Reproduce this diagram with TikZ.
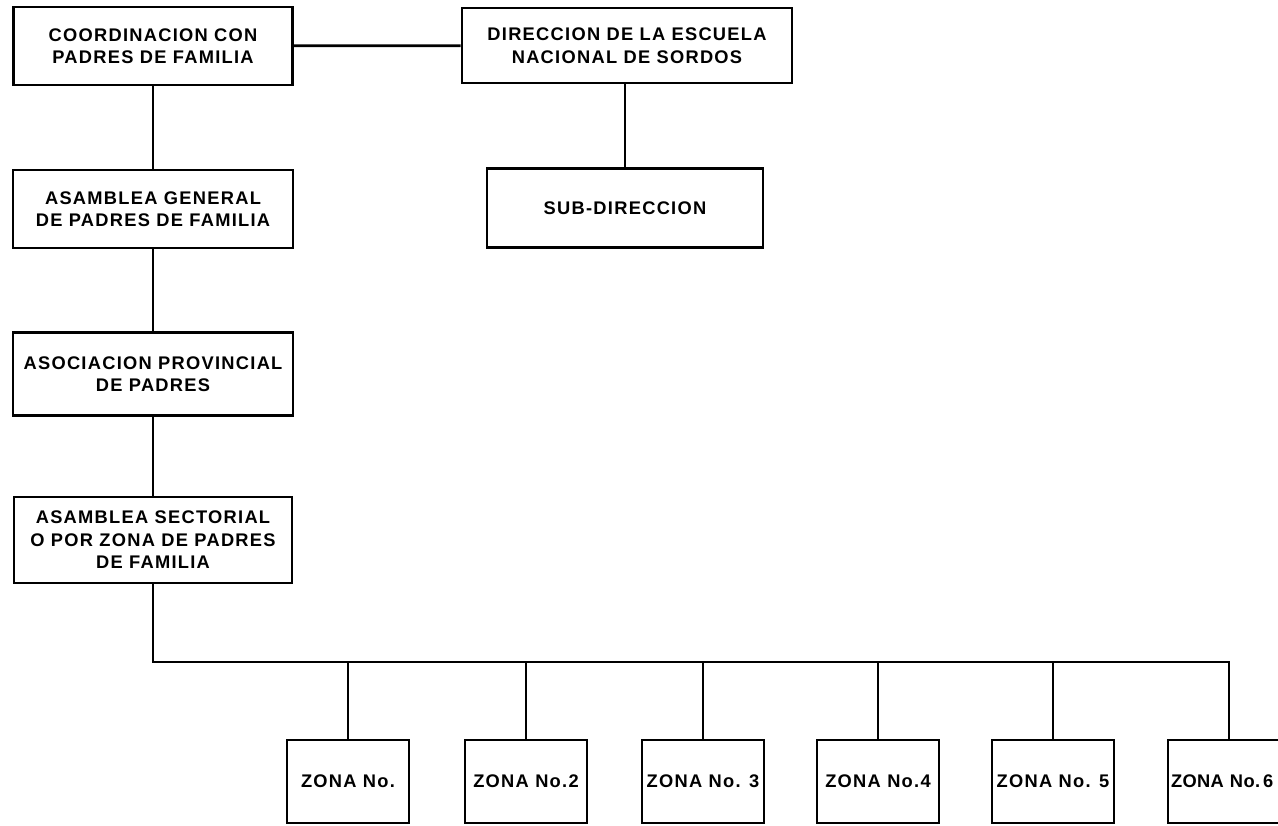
\documentclass[tikz,border=0pt]{standalone}
\usepackage{fontspec}
\newfontfamily\orgfont[LetterSpace=7]{Liberation Sans}

\tikzset{
  unit/.style={rectangle,draw,thick,align=center,inner sep=0pt,
    font=\orgfont\bfseries\fontsize{5.2}{6.4}\selectfont},
  zona/.style={unit,minimum width=1.22cm,minimum height=0.83cm}
}

\begin{document}
\begin{tikzpicture}

\useasboundingbox (0,0) rectangle (12.78,8.26);
\clip (0,0) rectangle (12.78,8.26);

\draw (1.53,7.80) node(COORD)[unit,minimum width=2.79cm,minimum height=0.78cm]{COORDINACION CON\\PADRES DE FAMILIA};
\draw (6.27,7.805) node(DIR)[unit,minimum width=3.30cm,minimum height=0.75cm]{DIRECCION DE LA ESCUELA\\NACIONAL DE SORDOS};
\draw (6.25,6.18) node(SUB)[unit,minimum width=2.76cm,minimum height=0.79cm]{SUB-DIRECCION};
\draw (1.53,6.17) node(GEN)[unit,minimum width=2.80cm,minimum height=0.78cm]{ASAMBLEA GENERAL\\DE PADRES DE FAMILIA};
\draw (1.53,4.52) node(ASOC)[unit,minimum width=2.80cm,minimum height=0.83cm]{ASOCIACION PROVINCIAL\\DE PADRES};
\draw (1.53,2.86) node(SECT)[unit,minimum width=2.78cm,minimum height=0.86cm]{ASAMBLEA SECTORIAL\\O POR ZONA DE PADRES\\DE FAMILIA};

\draw (3.48,0.445) node(ZONE1)[zona]{ZONA No.};
\draw (5.26,0.445) node(ZONE2)[zona]{ZONA No.2};
\draw (7.03,0.445) node(ZONE3)[zona]{ZONA No. 3};
\draw (8.78,0.445) node(ZONE4)[zona]{ZONA No.4};
\draw (10.53,0.445) node(ZONE5)[zona]{ZONA No. 5};
\draw (12.29,0.445) node(ZONE6)[zona,text width=1.16cm,inner xsep=0.03cm,align=left]{\addfontfeature{LetterSpace=2}ZONA No.\,6};

\coordinate (BUS) at (12.29,1.64);

\draw[thick] (COORD) -- (DIR);
\draw[thick] (SUB.north) -- (SUB.north |- DIR.south);
\draw[thick] (COORD) -- (GEN);
\draw[thick] (GEN) -- (ASOC);
\draw[thick] (ASOC) -- (SECT);

\draw[thick] (SECT.south) |- (BUS) -- (ZONE6.north);
\draw[thick] (ZONE1.north) -- (ZONE1.north |- BUS);
\draw[thick] (ZONE2.north) -- (ZONE2.north |- BUS);
\draw[thick] (ZONE3.north) -- (ZONE3.north |- BUS);
\draw[thick] (ZONE4.north) -- (ZONE4.north |- BUS);
\draw[thick] (ZONE5.north) -- (ZONE5.north |- BUS);

\end{tikzpicture}
\end{document}
